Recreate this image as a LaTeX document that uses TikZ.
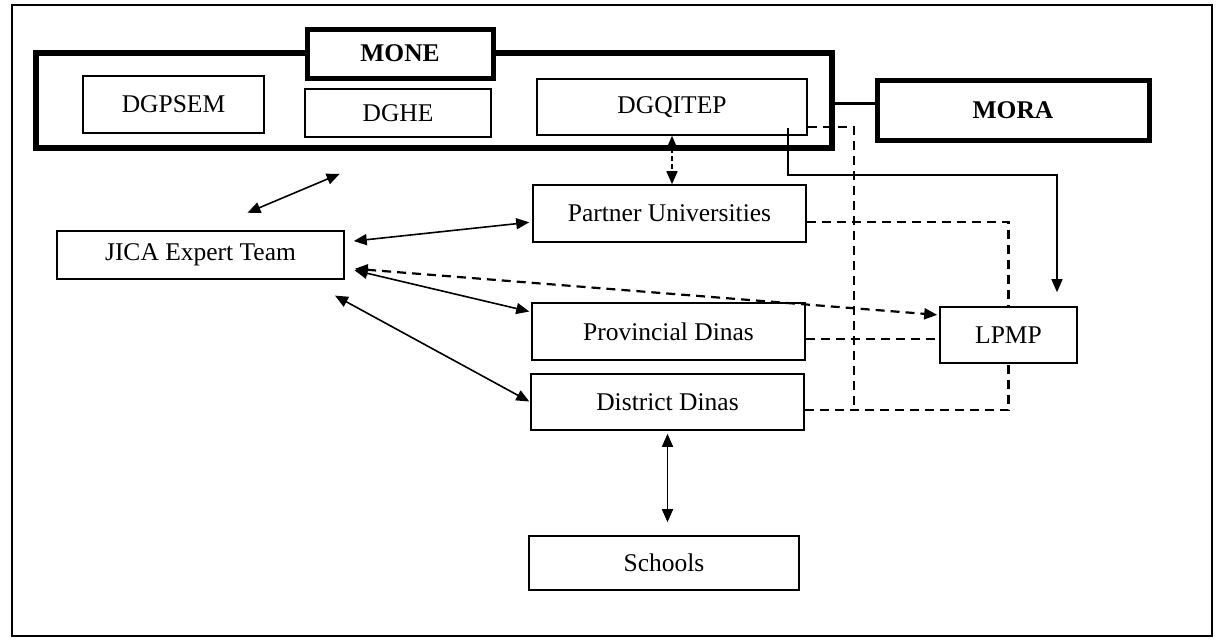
\documentclass[tikz,border=0pt]{standalone}
\usepackage{fontspec}
\setmainfont{Liberation Serif}
\usetikzlibrary{calc,arrows.meta,positioning}

\begin{document}
\begin{tikzpicture}[x=1pt,y=-1pt,
  thinBox/.style={draw,line width=1.6pt,fill=white,inner sep=0pt,font=\fontsize{25.5}{30}\selectfont},
  thickBox/.style={thinBox,line width=5pt,font=\fontsize{25.5}{30}\selectfont\bfseries},
  twoWay/.style={{Triangle[length=13pt,width=11pt]}-{Triangle[length=13pt,width=11pt]},line width=1.6pt},
  dashLink/.style={line width=2.2pt,dash pattern=on 9pt off 6pt}]
\useasboundingbox (0,0) rectangle (1218,641);
\draw[line width=2pt] (12,5) rectangle (1212,636);

\node[draw,line width=6pt,minimum width=796pt,minimum height=95pt] (moneGroup) at (434,100.5) {};
\node[thickBox,minimum width=186pt,minimum height=49pt] (mone) at (400,53.5) {MONE};
\node[thinBox,minimum width=181pt,minimum height=57pt] (dgpsem) at (173.5,104.5) {DGPSEM};
\node[thinBox,minimum width=186pt,minimum height=48pt] (dghe) at (398,113) {DGHE};
\node[thinBox,minimum width=270pt,minimum height=56pt] (dgqitep) at (672,107) {DGQITEP};
\node[thickBox,minimum width=272pt,minimum height=60pt] (mora) at (1013,110) {MORA};

\node[thinBox,minimum width=287pt,minimum height=48pt] (jica) at (200.5,255) {JICA Expert Team};
\node[thinBox,minimum width=273pt,minimum height=57pt] (partner) at (669.5,213.5) {Partner Universities};
\node[thinBox,minimum width=273pt,minimum height=57pt] (provincial) at (668.5,331.5) {Provincial Dinas};
\node[thinBox,minimum width=273pt,minimum height=56pt] (district) at (667.5,402) {District Dinas};
\node[thinBox,minimum width=270pt,minimum height=54pt] (schools) at (664,563) {Schools};
\node[thinBox,minimum width=137pt,minimum height=56pt] (lpmp) at (1008.5,335) {LPMP};

\draw[line width=3pt] ([yshift=-2.5pt]moneGroup.east) -- ([yshift=-2.5pt]moneGroup.east -| mora.west);

\draw[twoWay,shorten <=45pt,shorten >=59pt] ([xshift=5.5pt]jica.north) -- ([xshift=-40pt]moneGroup.south);
\draw[twoWay,shorten <=9pt,shorten >=3pt] ([yshift=13pt]jica.east) -- ([yshift=-8.5pt]partner.west);
\draw[twoWay,shorten <=10pt,shorten >=2pt] ([yshift=-13pt]jica.east) -- ([yshift=19.5pt]provincial.west);
\draw[twoWay,shorten <=33pt,shorten >=1pt] ([xshift=105.5pt]jica.south) -- (district.west);
\draw[twoWay,shorten <=3pt,shorten >=13pt] (district.south) -- (district.south |- schools.north);
\draw[twoWay,dashLink,line width=1.6pt,dash pattern=on 5pt off 3pt] (dgqitep.south) -- (dgqitep.south |- partner.north);

\draw[dashLink,{Triangle[length=13pt,width=11pt]}-{Triangle[length=13pt,width=11pt]},shorten <=10pt,shorten >=2pt] ([yshift=-13pt]jica.east) -- ([yshift=20pt]lpmp.west);

\draw[line width=1.6pt,-{Triangle[length=13pt,width=11pt]},shorten >=14pt] ([xshift=-20pt,yshift=8pt]dgqitep.south east) -- ++(0,47) -| ([xshift=48.5pt]lpmp.north);

\coordinate (dashJoin) at ([xshift=49pt,yshift=-8pt]district.east);
\draw[dashLink] ([yshift=-20pt]dgqitep.east) -| (dashJoin);
\draw[dashLink] ([yshift=-8pt]district.east) -| (lpmp.south);
\draw[dashLink] ([yshift=-8.5pt]partner.east) -| (lpmp.north);
\draw[dashLink] ([yshift=-7.5pt]provincial.east) -- ([yshift=-7.5pt]provincial.east -| lpmp.west);
\end{tikzpicture}
\end{document}
